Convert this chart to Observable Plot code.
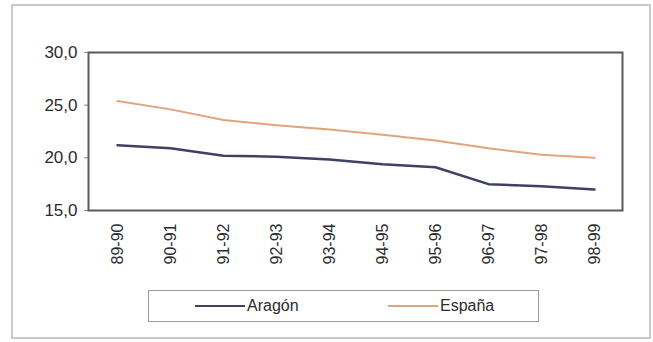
<!DOCTYPE html>
<html>
<head>
<meta charset="utf-8">
<script src="https://cdn.jsdelivr.net/npm/d3@7"></script>
<script src="https://cdn.jsdelivr.net/npm/@observablehq/plot@0.6"></script>
<style>
  html, body { margin: 0; padding: 0; background: #fff; }
  #wrap { position: relative; width: 653px; height: 342px; font-family: "Liberation Sans", Arial, sans-serif; }
  #outer { position: absolute; left: 11px; top: 4px; width: 636px; height: 331px; border: 2px solid #c9c9c9; box-sizing: content-box; pointer-events: none; }
  #chart { position: absolute; left: 0; top: 0; }
  #legend { position: absolute; left: 148px; top: 290px; width: 391px; height: 32px; border: 1px solid #9a9a9a; box-sizing: border-box; font-size: 16px; color: #2b2b2b; }
  .item { position: absolute; top: 0; height: 30px; display: flex; align-items: center; }
  .sw { display: inline-block; width: 50px; height: 0; border-top-style: solid; margin-right: 2px; }
</style>
</head>
<body>
<div id="wrap">
  <div id="chart"></div>
  <div id="outer"></div>
  <div id="legend"></div>
</div>
<script>
const periods = ["89-90","90-91","91-92","92-93","93-94","94-95","95-96","96-97","97-98","98-99"];
const aragon = [21.2, 20.9, 20.2, 20.1, 19.85, 19.4, 19.1, 17.5, 17.3, 17.0];
const espana = [25.4, 24.6, 23.6, 23.1, 22.7, 22.2, 21.65, 20.9, 20.3, 20.0];
const yTicks = [15, 20, 25, 30];
const seriesNames = ["Aragón", "España"];
const seriesColors = ["#3d4163", "#e2a47c"];

const rows = [];
periods.forEach((p, i) => {
  rows.push({period: p, value: aragon[i], serie: seriesNames[0]});
  rows.push({period: p, value: espana[i], serie: seriesNames[1]});
});

const plot = Plot.plot({
  width: 653,
  height: 282,
  marginLeft: 88,
  marginRight: 31,
  marginTop: 52,
  marginBottom: 72,
  style: {fontFamily: "'Liberation Sans', Arial, sans-serif", fontSize: "16px", color: "#2b2b2b", background: "transparent"},
  x: {type: "point", domain: periods, padding: 0.5, label: null},
  y: {domain: [15, 30], label: null},
  marks: [
    Plot.axisY({ticks: yTicks, tickSize: 4, tickPadding: 7, tickFormat: d => d.toFixed(1).replace(".", ","), stroke: "#888", fill: "#2b2b2b", fontSize: 17}),
    Plot.axisX({tickSize: 0, tickPadding: 13, tickRotate: -90, fill: "#2b2b2b", fontSize: 16}),
    Plot.line(rows.filter(d => d.serie === seriesNames[1]), {x: "period", y: "value", stroke: seriesColors[1], strokeWidth: 2}),
    Plot.line(rows.filter(d => d.serie === seriesNames[0]), {x: "period", y: "value", stroke: seriesColors[0], strokeWidth: 2.5}),
    Plot.frame({stroke: "#5a5a5a", strokeWidth: 2})
  ]
});
document.getElementById("chart").appendChild(plot);

const legend = document.getElementById("legend");
const lx = [46, 239];
seriesNames.forEach((name, i) => {
  const it = document.createElement("div");
  it.className = "item";
  it.style.left = lx[i] + "px";
  const sw = document.createElement("span");
  sw.className = "sw";
  sw.style.borderTopColor = seriesColors[i];
  sw.style.borderTopWidth = i === 0 ? "2.5px" : "2px";
  const t = document.createElement("span");
  t.textContent = name;
  it.appendChild(sw);
  it.appendChild(t);
  legend.appendChild(it);
});
</script>
</body>
</html>
